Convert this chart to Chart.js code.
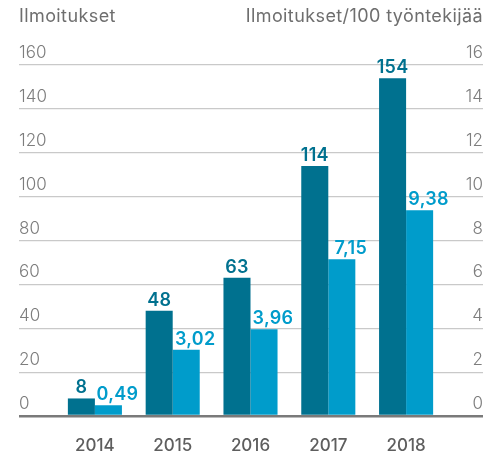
<!DOCTYPE html>
<html>
<head>
<meta charset="utf-8">
<script src="https://cdn.jsdelivr.net/npm/chart.js@4"></script>
<style>
  html, body { margin: 0; padding: 0; background: #ffffff; }
  #wrap { width: 489px; height: 454px; }
</style>
</head>
<body>
<div id="wrap"><canvas id="chart" width="489" height="454"></canvas></div>
<script>
// chart data
const years = ["2014", "2015", "2016", "2017", "2018"];
const notices = [8, 48, 63, 114, 154];
const noticesPer100 = [0.49, 3.02, 3.96, 7.15, 9.38];
const leftTitle = "Ilmoitukset";
const rightTitle = "Ilmoitukset/100 työntekijää";

const darkColor = "#00718f";
const lightColor = "#009ccb";
const gridColor = "#c9c9c9";
const zeroColor = "#7a7a7a";
const tickColor = "#7d7d7d";
const fontFamily = "Inter, 'Open Sans', sans-serif";

const lineWidthFor = (ctx) => (ctx.tick && ctx.tick.value === 0 ? 2.5 : 1.2);
const lineColorFor = (ctx) => (ctx.tick && ctx.tick.value === 0 ? zeroColor : gridColor);

function formatFi(value, decimals) {
  return value.toFixed(decimals).replace(".", ",");
}

// values above the bars (the rate labels sit a bit to the right)
const barLabels = {
  id: "barLabels",
  afterDatasetsDraw(chart) {
    const { ctx } = chart;
    ctx.save();
    ctx.font = `600 18px ${fontFamily}`;
    ctx.letterSpacing = "0.3px";
    ctx.textAlign = "center";
    ctx.textBaseline = "alphabetic";
    chart.data.datasets.forEach((ds, i) => {
      const meta = chart.getDatasetMeta(i);
      ctx.fillStyle = ds.backgroundColor;
      meta.data.forEach((bar, j) => {
        const v = ds.data[j];
        const text = i === 0 ? String(v) : formatFi(v, 2);
        const shift = i === 0 ? 0 : 9;
        ctx.fillText(text, bar.x + shift, bar.y - 5);
      });
    });
    ctx.restore();
  },
};

// axis titles on top
const axisTitles = {
  id: "axisTitles",
  afterDraw(chart) {
    const { ctx } = chart;
    ctx.save();
    ctx.font = `400 18px ${fontFamily}`;
    ctx.letterSpacing = "0.4px";
    ctx.fillStyle = "#6e6e6e";
    ctx.textBaseline = "middle";
    ctx.textAlign = "left";
    ctx.fillText(leftTitle, chart.scales.y.left, 17);
    ctx.textAlign = "right";
    ctx.fillText(rightTitle, chart.scales.y2.right, 17);
    ctx.restore();
  },
};

new Chart(document.getElementById("chart"), {
  type: "bar",
  data: {
    labels: years,
    datasets: [
      {
        label: leftTitle,
        data: notices,
        yAxisID: "y",
        backgroundColor: darkColor,
        categoryPercentage: 0.695,
        barPercentage: 1,
      },
      {
        label: rightTitle,
        data: noticesPer100,
        yAxisID: "y2",
        backgroundColor: lightColor,
        categoryPercentage: 0.695,
        barPercentage: 1,
      },
    ],
  },
  options: {
    responsive: false,
    animation: false,
    devicePixelRatio: 1,
    layout: { padding: { left: 19, right: 6, top: 65, bottom: 0 } },
    scales: {
      x: {
        grid: { display: false },
        border: { display: false },
        ticks: {
          color: "#5e5e5e",
          padding: 12,
          font: { family: fontFamily, size: 17, weight: "500" },
        },
        afterFit: (scale) => { scale.height = 38; },
      },
      y: {
        position: "left",
        min: 0,
        max: 160,
        border: { display: false },
        grid: {
          color: lineColorFor,
          lineWidth: lineWidthFor,
          tickLength: 37,
        },
        ticks: {
          stepSize: 20,
          crossAlign: "far",
          labelOffset: -12,
          color: tickColor,
          font: { family: fontFamily, size: 17, weight: "300" },
        },
        afterFit: (scale) => { scale.width = 37; },
      },
      y2: {
        position: "right",
        min: 0,
        max: 16,
        border: { display: false },
        grid: {
          drawOnChartArea: false,
          color: lineColorFor,
          lineWidth: lineWidthFor,
          tickLength: 38,
        },
        ticks: {
          stepSize: 2,
          crossAlign: "far",
          labelOffset: -12,
          color: tickColor,
          font: { family: fontFamily, size: 17, weight: "300" },
        },
        afterFit: (scale) => { scale.width = 38; },
      },
    },
    plugins: {
      legend: { display: false },
      tooltip: { enabled: false },
    },
  },
  plugins: [barLabels, axisTitles],
});
</script>
</body>
</html>
